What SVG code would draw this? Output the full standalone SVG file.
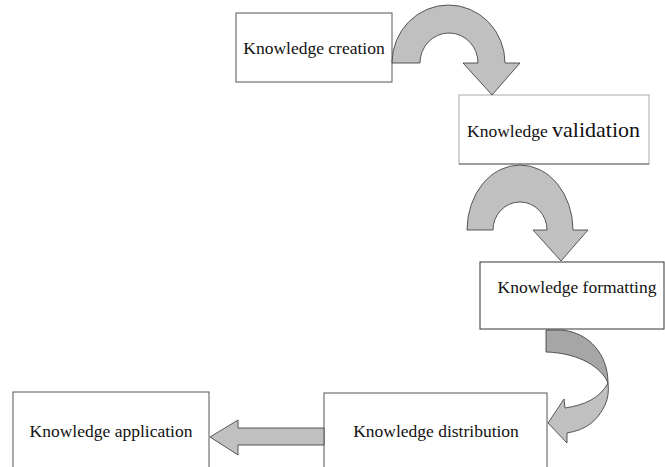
<svg xmlns="http://www.w3.org/2000/svg" width="665" height="467" viewBox="0 0 665 467">
  <style>
    .box { fill: #ffffff; stroke: #555555; stroke-width: 1; }
    .lbl { font-size: 17.5px; fill: #111111; }
    .arr { fill: #c0c0c0; stroke: #333333; stroke-width: 0.8; stroke-linejoin: round; }
    .dark { fill: #a6a6a6; stroke: #333333; stroke-width: 0.8; stroke-linejoin: round; }
  </style>
  <rect x="0" y="0" width="665" height="467" fill="#ffffff"/>

  <g id="node-creation">
    <rect class="box" x="236" y="13" width="156" height="69"/>
    <text class="lbl" font-family="Liberation Serif, Times New Roman, DejaVu Serif, serif" x="314" y="54" text-anchor="middle">Knowledge creation</text>
  </g>

  <g id="node-validation">
    <rect class="box" x="459" y="95" width="190" height="69" style="stroke:#aaaaaa"/>
    <line x1="459" y1="164" x2="649" y2="164" stroke="#666666" stroke-width="1"/>
    <text class="lbl" font-family="Liberation Serif, Times New Roman, DejaVu Serif, serif" x="467" y="137"><tspan>Knowledge </tspan><tspan font-size="22">validation</tspan></text>
  </g>

  <g id="node-formatting">
    <rect class="box" x="480" y="262" width="184" height="67" style="stroke:#333333"/>
    <text class="lbl" font-family="Liberation Serif, Times New Roman, DejaVu Serif, serif" x="577" y="293" text-anchor="middle">Knowledge formatting</text>
  </g>

  <g id="node-distribution">
    <rect class="box" x="324" y="393" width="223" height="90"/>
    <text class="lbl" font-family="Liberation Serif, Times New Roman, DejaVu Serif, serif" x="436" y="437" text-anchor="middle">Knowledge distribution</text>
  </g>

  <g id="node-application">
    <rect class="box" x="13" y="392" width="196" height="90"/>
    <text class="lbl" font-family="Liberation Serif, Times New Roman, DejaVu Serif, serif" x="111" y="437" text-anchor="middle">Knowledge application</text>
  </g>

  <g id="connectors">
    <path class="arr" d="M392,63 A56.5,58 0 0 1 505,63 L520,63 L492,95 L463,63 L478,63 A29,30 0 0 0 420,63 Z"/>
    <path class="arr" d="M467,230 A53,65 0 0 1 573,230 L588,230 L561,261 L533,230 L547,230 A27,28 0 0 0 493,230 Z"/>
    <path class="dark" d="M546,330 L562,330 C590,333 608,355 608,383 C602,368 580,353 546,352 Z"/>
    <path class="arr" d="M608,383 C609,392 608,398 605,405 C597,422 585,430 567,433 L567,443 L548,423 L564,399 L565,408 C585,405 600,398 608,383 Z"/>
    <path class="arr" d="M324,428 L238,428 L238,420 L210,437 L238,455 L238,445 L324,445 Z"/>
  </g>
</svg>
